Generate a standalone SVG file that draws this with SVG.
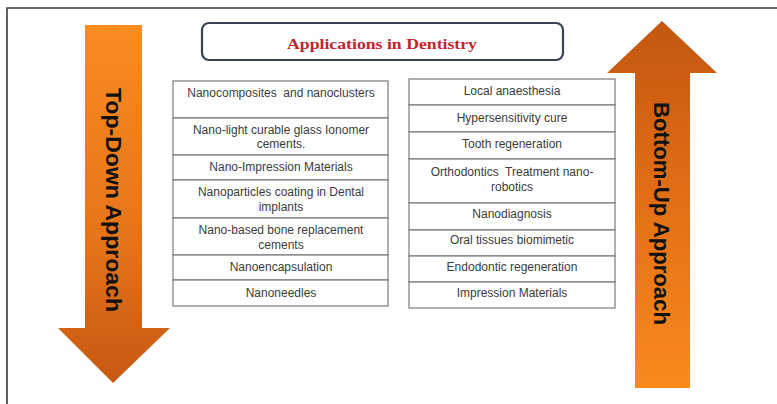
<svg xmlns="http://www.w3.org/2000/svg" width="777" height="404" viewBox="0 0 777 404">
  <style>
    .frame { stroke: #3a3a3a; stroke-width: 1.6; fill: none; }
    .cell { fill: #ffffff; stroke: #7a7a7a; stroke-width: 1.2; }
    .item { font-family: "Liberation Sans", Arial, sans-serif; font-size: 12px; fill: #3b3b3b; text-anchor: middle; white-space: pre; }
    .label { font-family: "Liberation Sans", Arial, sans-serif; font-size: 22px; font-weight: bold; fill: #111111; }
    .title { font-family: "Liberation Serif", "Times New Roman", serif; font-size: 14.5px; font-weight: bold; fill: #c3252f; text-anchor: middle; }
  </style>
  <defs>
    <linearGradient id="gradDown" x1="0" y1="0" x2="0" y2="1">
      <stop offset="0" stop-color="#f88c1f"/>
      <stop offset="0.6" stop-color="#e5741a"/>
      <stop offset="1" stop-color="#c65812"/>
    </linearGradient>
    <linearGradient id="gradUp" x1="0" y1="0" x2="0" y2="1">
      <stop offset="0" stop-color="#c2570f"/>
      <stop offset="0.45" stop-color="#e06d16"/>
      <stop offset="1" stop-color="#f98a1c"/>
    </linearGradient>
  </defs>

  <rect width="777" height="404" fill="#ffffff"/>

  <!-- page frame: top and left rules -->
  <path class="frame" d="M7 404 V8 H777"/>

  <!-- title box -->
  <g id="title">
    <rect x="202" y="23" width="361" height="37" rx="7" fill="#ffffff" stroke="#364352" stroke-width="2.2"/>
    <text class="title" x="382" y="49" textLength="190" lengthAdjust="spacingAndGlyphs">Applications in Dentistry</text>
  </g>

  <!-- downward arrow on the left -->
  <g id="top-down">
    <path d="M85 25 H142 V328 H170 L113 383 L58 328 H85 Z" fill="url(#gradDown)"/>
    <text class="label" transform="translate(106 88) rotate(90)" textLength="224" lengthAdjust="spacingAndGlyphs">Top-Down Approach</text>
  </g>

  <!-- upward arrow on the right -->
  <g id="bottom-up">
    <path d="M635 388 V73 H607 L662 21 L717 73 H690 V388 Z" fill="url(#gradUp)"/>
    <text class="label" transform="translate(654 102) rotate(90)" textLength="223" lengthAdjust="spacingAndGlyphs">Bottom-Up Approach</text>
  </g>

  <!-- top-down applications -->
  <g id="left-table">
    <g id="l1"><rect class="cell" x="173" y="81" width="215" height="37"/><text class="item" x="281" y="97" xml:space="preserve">Nanocomposites  and nanoclusters</text></g>
    <g id="l2"><rect class="cell" x="173" y="118" width="215" height="37"/><text class="item" x="281" y="134">Nano-light curable glass Ionomer</text><text class="item" x="281" y="148">cements.</text></g>
    <g id="l3"><rect class="cell" x="173" y="155" width="215" height="25"/><text class="item" x="281" y="171">Nano-Impression Materials</text></g>
    <g id="l4"><rect class="cell" x="173" y="180" width="215" height="38"/><text class="item" x="281" y="196">Nanoparticles coating in Dental</text><text class="item" x="281" y="211">implants</text></g>
    <g id="l5"><rect class="cell" x="173" y="218" width="215" height="37"/><text class="item" x="281" y="234">Nano-based bone replacement</text><text class="item" x="281" y="249">cements</text></g>
    <g id="l6"><rect class="cell" x="173" y="255" width="215" height="25"/><text class="item" x="281" y="271">Nanoencapsulation</text></g>
    <g id="l7"><rect class="cell" x="173" y="280" width="215" height="26"/><text class="item" x="281" y="297">Nanoneedles</text></g>
  </g>

  <!-- bottom-up applications -->
  <g id="right-table">
    <g id="r1"><rect class="cell" x="409" y="79" width="206" height="26"/><text class="item" x="512" y="95">Local anaesthesia</text></g>
    <g id="r2"><rect class="cell" x="409" y="105" width="206" height="27"/><text class="item" x="512" y="122">Hypersensitivity cure</text></g>
    <g id="r3"><rect class="cell" x="409" y="132" width="206" height="27"/><text class="item" x="512" y="148">Tooth regeneration</text></g>
    <g id="r4"><rect class="cell" x="409" y="159" width="206" height="44"/><text class="item" x="512" y="176" xml:space="preserve">Orthodontics  Treatment nano-</text><text class="item" x="512" y="191">robotics</text></g>
    <g id="r5"><rect class="cell" x="409" y="203" width="206" height="27"/><text class="item" x="512" y="218">Nanodiagnosis</text></g>
    <g id="r6"><rect class="cell" x="409" y="230" width="206" height="26"/><text class="item" x="512" y="244">Oral tissues biomimetic</text></g>
    <g id="r7"><rect class="cell" x="409" y="256" width="206" height="26"/><text class="item" x="512" y="271">Endodontic regeneration</text></g>
    <g id="r8"><rect class="cell" x="409" y="282" width="206" height="26"/><text class="item" x="512" y="297">Impression Materials</text></g>
  </g>
</svg>
